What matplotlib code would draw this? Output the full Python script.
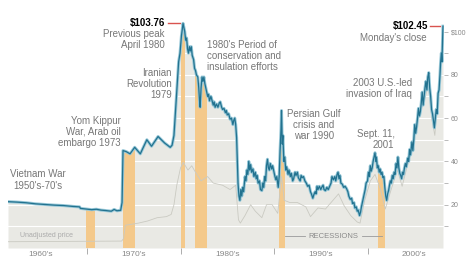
import numpy as np
import matplotlib
matplotlib.use('Agg')
import matplotlib.pyplot as plt

# Inflation-adjusted crude oil price (three stretches)
years_early = [1961.55, 1962.5, 1963.5, 1964.5, 1965.5, 1966.5, 1967.5, 1968.5, 1969.2, 1969.3,
               1969.9, 1970.5, 1971.0, 1971.5, 1972.0, 1972.6, 1972.9, 1973.2, 1973.6, 1973.75,
               1973.85, 1974.2, 1974.6, 1975.1, 1975.7, 1976.4, 1976.9, 1977.6, 1978.3, 1978.9,
               1979.1, 1979.3, 1979.6, 1979.8, 1979.95, 1980.1, 1980.27]
price_early = [21.4, 21.2, 20.9, 20.4, 20.1, 19.8, 19.6, 19.2, 19.0, 18.3,
               18.0, 17.7, 17.9, 17.5, 17.3, 17.0, 17.8, 17.2, 17.4, 21.0,
               45.0, 44.5, 43.5, 46.5, 43.5, 50.0, 47.0, 51.5, 48.5, 46.5,
               47.5, 52.0, 72.0, 86.0, 90.0, 98.0, 103.76]

years_mid = [1980.35, 1980.45, 1980.55, 1980.65, 1980.75, 1980.85, 1980.95, 1981.05, 1981.15, 1981.25,
             1981.4, 1981.5, 1981.6, 1981.7, 1981.85, 1981.95, 1982.05, 1982.1, 1982.2, 1982.3,
             1982.4, 1982.5, 1982.6, 1982.75, 1982.9, 1983.0, 1983.1, 1983.25, 1983.35, 1983.5,
             1983.6, 1983.7, 1983.85, 1984.0, 1984.15, 1984.25, 1984.4, 1984.5, 1984.65, 1984.8,
             1984.9, 1985.0, 1985.15, 1985.3, 1985.45, 1985.6, 1985.7, 1985.8, 1985.9, 1986.0]
price_mid = [102, 100, 96, 97, 92, 90, 93, 91, 93, 89,
             87, 83, 82, 80, 79, 74, 67, 65, 74, 79,
             77, 79, 76, 73, 70, 71, 68, 70, 68.5, 66,
             67.5, 65, 66.5, 65, 67, 67.5, 65, 64, 64.5, 62.5,
             63.5, 61.5, 62, 59.5, 60, 57, 59, 60, 57, 51]

years_late = [1986.08, 1986.15, 1986.25, 1986.35, 1986.45, 1986.55, 1986.65, 1986.75, 1986.9, 1987.0,
              1987.1, 1987.2, 1987.3, 1987.4, 1987.5, 1987.6, 1987.75, 1987.85, 1988.0, 1988.1,
              1988.2, 1988.3, 1988.45, 1988.55, 1988.7, 1988.8, 1988.9, 1989.0, 1989.1, 1989.2,
              1989.3, 1989.4, 1989.5, 1989.6, 1989.75, 1989.85, 1990.0, 1990.1, 1990.2, 1990.3,
              1990.45, 1990.55, 1990.65, 1990.75, 1990.8, 1990.88, 1990.95, 1991.05, 1991.15, 1991.25,
              1991.35, 1991.5, 1991.6, 1991.75, 1991.85, 1992.0, 1992.1, 1992.25, 1992.35, 1992.5,
              1992.6, 1992.8, 1992.9, 1993.0, 1993.15, 1993.3, 1993.45, 1993.6, 1993.75, 1993.9,
              1994.0, 1994.15, 1994.25, 1994.4, 1994.5, 1994.6, 1994.7, 1994.85, 1995.0, 1995.1,
              1995.25, 1995.35, 1995.5, 1995.65, 1995.8, 1995.95, 1996.1, 1996.2, 1996.35, 1996.5,
              1996.6, 1996.75, 1996.85, 1996.95, 1997.05, 1997.15, 1997.3, 1997.45, 1997.6, 1997.75,
              1997.9, 1998.0, 1998.15, 1998.3, 1998.4, 1998.55, 1998.65, 1998.8, 1998.9, 1999.0,
              1999.15, 1999.25, 1999.35, 1999.45, 1999.55, 1999.65, 1999.75, 1999.85, 2000.0, 2000.1,
              2000.2, 2000.3, 2000.4, 2000.5, 2000.6, 2000.7, 2000.8, 2000.9, 2000.95, 2001.05,
              2001.15, 2001.25, 2001.35, 2001.45, 2001.55, 2001.65, 2001.75, 2001.85, 2001.95, 2002.05,
              2002.15, 2002.25, 2002.35, 2002.45, 2002.55, 2002.65, 2002.75, 2002.85, 2002.95, 2003.05,
              2003.15, 2003.25, 2003.35, 2003.45, 2003.55, 2003.65, 2003.75, 2003.85, 2003.95, 2004.05,
              2004.15, 2004.3, 2004.4, 2004.5, 2004.6, 2004.75, 2004.85, 2004.95, 2005.05, 2005.15,
              2005.25, 2005.35, 2005.45, 2005.55, 2005.65, 2005.75, 2005.85, 2005.95, 2006.05, 2006.15,
              2006.25, 2006.35, 2006.45, 2006.55, 2006.65, 2006.75, 2006.85, 2006.95, 2007.05, 2007.15,
              2007.25, 2007.35, 2007.45, 2007.55, 2007.65, 2007.75, 2007.82, 2007.9, 2007.96, 2008.02,
              2008.07]
price_late = [40, 30, 24, 22, 27, 24, 28, 26, 33, 31,
              36, 34, 40, 36, 38.5, 35, 36.5, 33, 35, 32,
              33.5, 30, 31, 27, 26.5, 30, 28, 33, 31, 38,
              41, 37, 36, 39, 36.5, 38, 35, 33, 31.5, 33,
              28, 33, 45, 55, 63.5, 48, 52, 40, 42, 36,
              37.5, 34, 36, 33, 34.5, 31, 32, 35, 33.5, 35,
              32.5, 31, 33.5, 32.5, 33, 31, 30, 28.5, 29, 26,
              25, 23, 24.5, 26, 25, 28.5, 27, 28.5, 27, 28,
              29, 27, 26.5, 28, 27, 28.5, 30, 33, 31.5, 33,
              31, 34, 35, 32, 33.5, 30, 29.5, 28, 28.5, 27.5,
              26, 24, 22.5, 23, 20.5, 21, 18.5, 19, 17, 17.5,
              15, 16.5, 19, 21, 23, 25, 27, 30, 31, 35,
              33, 38, 35.5, 37, 40, 42, 44, 40, 42, 37,
              38, 35, 36.5, 34, 35, 32.5, 33, 28, 24, 22,
              25, 26.5, 29, 31, 30, 33.5, 32, 35, 34, 39,
              37, 42, 37, 34.5, 33.5, 32, 35, 34, 37, 39,
              37.5, 41.5, 40, 45.5, 43, 49, 45, 50, 57, 53,
              56, 60, 64.5, 61, 63, 67, 72, 66, 70, 74,
              77, 73, 79, 81, 74, 70, 64, 62, 59, 55.5,
              60, 64, 62, 71.5, 73, 80, 86, 90, 86, 95,
              102.45]

# Unadjusted (nominal) price
years_nominal = [1961.55, 1973.7, 1973.9, 1974.1, 1975.5, 1976.5, 1977.5, 1978.5, 1979.0, 1979.3,
                 1979.6, 1980.0, 1980.3, 1980.8, 1981.2, 1981.6, 1982.2, 1982.9, 1983.5, 1984.5,
                 1985.3, 1985.9, 1986.2, 1986.4, 1986.9, 1987.5, 1988.0, 1988.7, 1989.2, 1989.8,
                 1990.4, 1990.8, 1991.1, 1991.7, 1992.5, 1993.4, 1993.9, 1994.7, 1995.5, 1996.3,
                 1996.9, 1997.5, 1998.2, 1998.9, 1999.2, 1999.7, 2000.3, 2000.8, 2001.4, 2001.9,
                 2002.6, 2003.2, 2003.7, 2004.5, 2005.1, 2005.6, 2006.2, 2006.5, 2006.9, 2007.2,
                 2007.5, 2007.86, 2008.07]
unadjusted = [2.9, 3.2, 4.3, 10.5, 11.5, 12.5, 14.0, 14.5, 15.5, 20.0,
              29.0, 37.0, 39.5, 36.0, 38.0, 35.0, 31.0, 33.0, 30.0, 29.0,
              27.0, 29.0, 13.0, 11.5, 15.0, 20.0, 17.0, 14.0, 20.0, 20.0,
              16.0, 33.0, 22.0, 21.0, 21.0, 19.0, 14.5, 18.5, 18.0, 22.0,
              25.0, 19.5, 15.0, 12.0, 11.5, 22.0, 31.0, 34.0, 27.0, 18.0,
              28.0, 36.0, 28.5, 42.0, 53.0, 62.0, 70.0, 76.0, 59.0, 52.0,
              68.0, 89.0, 102.45]

# US recessions (start, end)
recessions = [(1969.92, 1970.83), (1973.83, 1975.17), (1980.0, 1980.5),
              (1981.5, 1982.83), (1990.5, 1991.17), (2001.17, 2001.83)]

decade_labels = ["1960's", "1970's", "1980's", "1990's", "2000's"]
decade_centers = [1965, 1975, 1985, 1995, 2005]
decade_bounds = [1970, 1980, 1990, 2000]


def main():
    plt.rcParams['font.family'] = ['Liberation Sans', 'DejaVu Sans']
    years = years_early + years_mid + years_late
    adjusted = price_early + price_mid + price_late

    fig = plt.figure(figsize=(4.67, 2.6), dpi=100)
    ax = fig.add_axes([8 / 467, 12 / 260, 436 / 467, 233.8 / 260])
    ax.set_xlim(1961.55, 2008.18)
    ax.set_ylim(0, 108)

    grey = '#777777'

    # shaded area under the adjusted price
    fill = ax.fill_between(years, 0, adjusted, color='#e9e9e4', lw=0, zorder=1)
    for yv in range(10, 101, 10):
        ax.axhline(yv, color='white', lw=0.8, zorder=1.5)

    # recession bars, clipped to the area under the line
    clip = fill.get_paths()[0]
    for start, end in recessions:
        bar = ax.axvspan(start, end, color='#f4c98b', lw=0, zorder=2)
        bar.set_clip_path(clip, ax.transData)

    ax.plot(years_nominal, unadjusted, color='#cacac2', lw=0.6, zorder=2.5)
    ax.plot(years, adjusted, color='#98c8d8', lw=2.2, zorder=3, solid_joinstyle='round')
    ax.plot(years, adjusted, color='#22728f', lw=0.9, zorder=3.1, solid_joinstyle='round')

    # axes styling
    for s in ax.spines.values():
        s.set_visible(False)
    ax.yaxis.tick_right()
    ax.set_yticks(range(10, 101, 10))
    ax.set_yticklabels(['', '20', '', '40', '', '60', '', '80', '', '$100'])
    ax.tick_params(axis='y', length=3, width=0.6, color='#b0b0b0', pad=2,
                   labelsize=5, labelcolor='#888888')
    ax.set_xticks(decade_bounds)
    ax.set_xticklabels([])
    ax.set_xticks(decade_centers, minor=True)
    ax.set_xticklabels(decade_labels, minor=True)
    ax.tick_params(axis='x', which='major', length=4, width=0.6, color='#a0a0a0')
    ax.tick_params(axis='x', which='minor', length=0, pad=2, labelsize=6, labelcolor='#888888')

    # annotations
    peak_val = max(price_early)
    peak_year = years_early[price_early.index(peak_val)]
    ax.text(peak_year - 1.93, peak_val, '$%.2f' % peak_val, ha='right', va='center',
            fontsize=7, fontweight='bold', color='black')
    ax.plot([peak_year - 1.6, peak_year - 0.3], [peak_val, peak_val], color='#d9534f', lw=1)
    ax.text(peak_year - 1.93, 96.3, 'Previous peak\nApril 1980', ha='right', va='center',
            fontsize=7, color=grey, linespacing=1.15)

    last_year, last_val = years[-1], adjusted[-1]
    ax.text(last_year - 1.6, last_val, '$%.2f' % last_val, ha='right', va='center',
            fontsize=7, fontweight='bold', color='black')
    ax.plot([last_year - 1.4, last_year - 0.32], [last_val, last_val], color='#d9534f', lw=1)
    ax.text(last_year - 1.7, 97, "Monday's close", ha='right', va='center', fontsize=7, color=grey)

    ax.text(1979.09, 75.8, 'Iranian\nRevolution\n1979', ha='right', va='center',
            fontsize=7, color=grey, linespacing=1.15)
    ax.text(1982.83, 88.7, "1980's Period of\nconservation and\ninsulation efforts",
            ha='left', va='center', fontsize=7, color=grey, linespacing=1.15)
    ax.text(1973.64, 53.6, 'Yom Kippur\nWar, Arab oil\nembargo 1973', ha='right', va='center',
            fontsize=7, color=grey, linespacing=1.15)
    ax.text(1964.76, 31.4, "Vietnam War\n1950's-70's", ha='center', va='center',
            fontsize=7, color=grey, linespacing=1.15)
    ax.text(1994.28, 56.8, 'Persian Gulf\ncrisis and\nwar 1990', ha='center', va='center',
            fontsize=7, color=grey, linespacing=1.15)
    ax.text(2002.89, 50.3, 'Sept. 11,\n2001', ha='right', va='center',
            fontsize=7, color=grey, linespacing=1.15)
    ax.text(2004.76, 73.7, '2003 U.S.-led\ninvasion of Iraq', ha='right', va='center',
            fontsize=7, color=grey, linespacing=1.15)
    ax.text(1962.83, 5.8, 'Unadjusted price', ha='left', va='center', fontsize=5, color='#ababab')

    ax.text(1996.3, 5.5, 'RECESSIONS', ha='center', va='center', fontsize=5.5, color='#8a8a8a')
    ax.plot([1991.18, 1993.32], [5.5, 5.5], color='#9a9a9a', lw=0.6, zorder=4)
    ax.plot([1999.41, 2001.55], [5.5, 5.5], color='#9a9a9a', lw=0.6, zorder=4)

    fig.savefig('out.png', dpi=100)


if __name__ == '__main__':
    main()
